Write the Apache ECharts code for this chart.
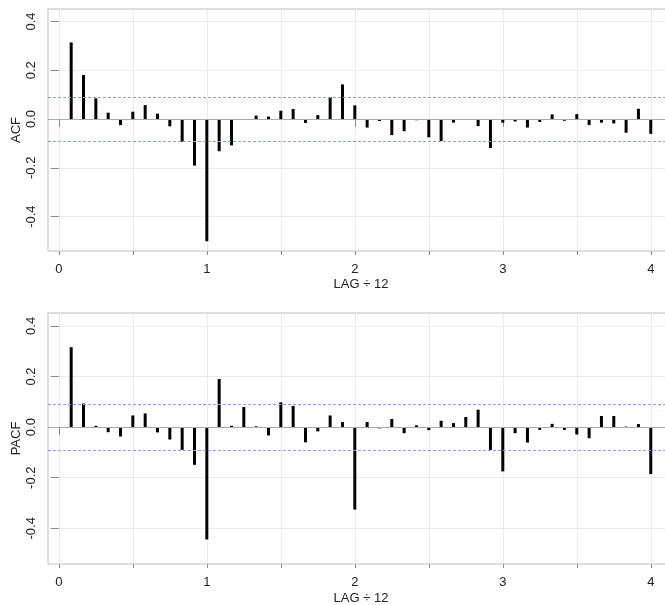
<!DOCTYPE html>
<html>
<head>
<meta charset="utf-8">
<script src="https://cdn.jsdelivr.net/npm/echarts@6/dist/echarts.min.js"></script>
<style>html,body{margin:0;padding:0;background:#fff;}#c{width:665px;height:605px;}</style>
</head>
<body>
<div id="c"></div>
<script>
// Lag index (months); plotted as LAG / 12
const lags = [1,2,3,4,5,6,7,8,9,10,11,12,13,14,15,16,17,18,19,20,21,22,23,24,
              25,26,27,28,29,30,31,32,33,34,35,36,37,38,39,40,41,42,43,44,45,46,47,48];
const acfValues = [0.314,0.180,0.085,0.026,-0.025,0.030,0.057,0.022,-0.030,-0.093,-0.191,-0.501,
                   -0.132,-0.108,-0.003,0.014,0.010,0.034,0.041,-0.016,0.016,0.090,0.142,0.056,
                   -0.035,-0.008,-0.066,-0.050,-0.005,-0.075,-0.090,-0.015,-0.004,-0.029,-0.119,-0.015,
                   -0.010,-0.035,-0.012,0.019,-0.007,0.020,-0.025,-0.015,-0.018,-0.056,0.042,-0.061];
const pacfValues = [0.316,0.093,0.005,-0.020,-0.037,0.046,0.054,-0.021,-0.049,-0.090,-0.149,-0.444,
                    0.190,0.005,0.080,0.003,-0.033,0.098,0.084,-0.060,-0.017,0.046,0.020,-0.326,
                    0.020,-0.005,0.032,-0.024,0.007,-0.012,0.025,0.016,0.040,0.069,-0.090,-0.175,
                    -0.024,-0.061,-0.011,0.013,-0.011,-0.029,-0.044,0.044,0.044,0.002,0.012,-0.186];
const upperBound = 0.087;
const lowerBound = -0.093;
const xMajorTicks = [0,1,2,3,4];
const xMinorTicks = [0,0.5,1,1.5,2,2.5,3,3.5,4];
const yTicks = [-0.4,-0.2,0,0.2,0.4];
const xTitle = 'LAG \u00F7 12';
const yTitles = ['ACF','PACF'];

const FONT = 'Liberation Sans, Arial, sans-serif';
const TXT = '#222';
const XMIN = -0.0733, XMAX = 4.157;
const YMIN = -0.541, YMAX = 0.451;

const grids = [
  {left: 48, top: 9, width: 626, height: 242},
  {left: 48, top: 313, width: 626, height: 251}
];
const xNameGaps = [27, 28];

function gridOpt(g){
  return Object.assign({show: true, borderColor: '#bdbdbd', borderWidth: 1, backgroundColor: 'transparent',
                        containLabel: false, outerBoundsMode: 'none'}, g);
}

const xAxes = [], yAxes = [], series = [];
[acfValues, pacfValues].forEach((vals, i) => {
  xAxes.push({
    type: 'value', gridIndex: i, min: XMIN, max: XMAX, position: 'bottom',
    axisLine: {show: false},
    axisTick: {show: true, length: 8, lineStyle: {color: '#888'}, customValues: xMajorTicks},
    axisLabel: {show: true, customValues: xMajorTicks, margin: 12, color: TXT, fontFamily: FONT, fontSize: 13,
                formatter: v => String(v)},
    splitLine: {show: false},
    name: xTitle, nameLocation: 'middle', nameGap: xNameGaps[i], nameMoveOverlap: false,
    nameTextStyle: {color: TXT, fontFamily: FONT, fontSize: 13}
  });
  xAxes.push({
    type: 'value', gridIndex: i, min: XMIN, max: XMAX, position: 'bottom',
    axisLine: {show: false},
    axisTick: {show: true, length: 4, lineStyle: {color: '#888'}, customValues: xMinorTicks},
    axisLabel: {show: false},
    splitLine: {show: true, lineStyle: {color: '#ebebeb', width: 1}}
  });
  yAxes.push({
    type: 'value', gridIndex: i, min: YMIN, max: YMAX,
    axisLine: {show: false},
    axisTick: {show: true, length: 8, lineStyle: {color: '#888'}, customValues: yTicks},
    axisLabel: {show: true, customValues: yTicks, rotate: 90, margin: 10, color: TXT, fontFamily: FONT, fontSize: 13,
                formatter: v => v.toFixed(1)},
    splitLine: {show: true, lineStyle: {color: '#ebebeb', width: 1}},
    name: yTitles[i], nameLocation: 'middle', nameRotate: 90, nameGap: 25, nameMoveOverlap: false,
    nameTextStyle: {color: TXT, fontFamily: FONT, fontSize: 13}
  });
  series.push({
    type: 'bar', xAxisIndex: i * 2, yAxisIndex: i,
    data: lags.map((k, j) => [k / 12, vals[j]]),
    barWidth: 3,
    itemStyle: {color: '#000'},
    silent: true,
    markLine: {
      silent: true, symbol: 'none', label: {show: false},
      data: [
        {yAxis: 0, lineStyle: {color: '#aaaaaa', type: 'solid', width: 1}},
        {yAxis: upperBound, lineStyle: {color: '#7fa9dc', type: [3, 2], width: 1}},
        {yAxis: lowerBound, lineStyle: {color: '#7fa9dc', type: [3, 2], width: 1}}
      ]
    },
    z: 3
  });
});

const chart = echarts.init(document.getElementById('c'), null, {renderer: 'canvas'});
chart.setOption({
  animation: false,
  backgroundColor: '#fff',
  grid: grids.map(gridOpt),
  xAxis: xAxes,
  yAxis: yAxes,
  series: series
});
</script>
</body>
</html>
